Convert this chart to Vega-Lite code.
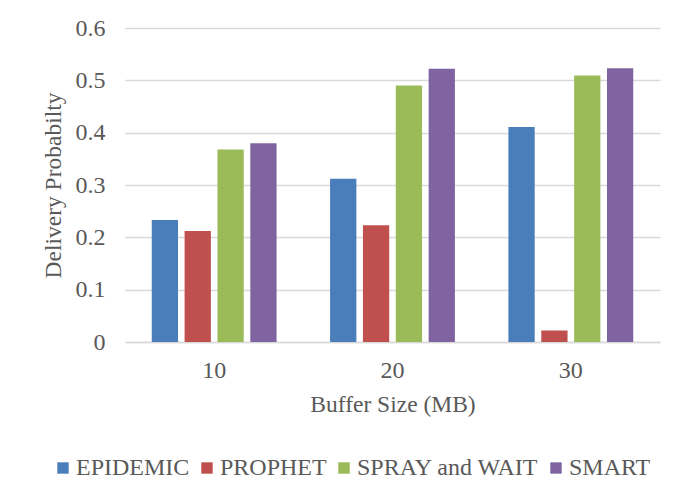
{
  "$schema": "https://vega.github.io/schema/vega-lite/v6.json",
  "width": 535,
  "height": 314,
  "autosize": {"type": "none"},
  "padding": {"left": 125, "top": 28, "right": 15, "bottom": 157},
  "background": "white",
  "data": {
    "values": [
      {"buffer": "10", "protocol": "EPIDEMIC", "p": 0.233},
      {"buffer": "10", "protocol": "PROPHET", "p": 0.212},
      {"buffer": "10", "protocol": "SPRAY and WAIT", "p": 0.368},
      {"buffer": "10", "protocol": "SMART", "p": 0.380},
      {"buffer": "20", "protocol": "EPIDEMIC", "p": 0.312},
      {"buffer": "20", "protocol": "PROPHET", "p": 0.223},
      {"buffer": "20", "protocol": "SPRAY and WAIT", "p": 0.490},
      {"buffer": "20", "protocol": "SMART", "p": 0.522},
      {"buffer": "30", "protocol": "EPIDEMIC", "p": 0.411},
      {"buffer": "30", "protocol": "PROPHET", "p": 0.022},
      {"buffer": "30", "protocol": "SPRAY and WAIT", "p": 0.509},
      {"buffer": "30", "protocol": "SMART", "p": 0.523}
    ]
  },
  "mark": {"type": "bar"},
  "encoding": {
    "x": {
      "field": "buffer", "type": "nominal", "sort": ["10", "20", "30"],
      "scale": {"paddingInner": 0.3, "paddingOuter": 0.15},
      "axis": {
        "title": "Buffer Size (MB)", "labelAngle": 0, "ticks": false,
        "domainColor": "#d9d9d9", "domainWidth": 1.5,
        "labelFont": "Liberation Serif", "labelFontSize": 24, "labelColor": "#595959",
        "labelPadding": 16,
        "titleFont": "Liberation Serif", "titleFontSize": 23.5, "titleFontWeight": "normal",
        "titleColor": "#595959", "titlePadding": 10
      }
    },
    "xOffset": {
      "field": "protocol", "type": "nominal",
      "sort": ["EPIDEMIC", "PROPHET", "SPRAY and WAIT", "SMART"],
      "scale": {"paddingInner": 0.2, "paddingOuter": 0}
    },
    "y": {
      "field": "p", "type": "quantitative",
      "scale": {"domain": [0, 0.6]},
      "axis": {
        "title": "Delivery Probabilty", "values": [0, 0.1, 0.2, 0.3, 0.4, 0.5, 0.6],
        "format": "~g", "ticks": false, "domain": false,
        "gridColor": "#d9d9d9", "gridWidth": 1.3,
        "labelFont": "Liberation Serif", "labelFontSize": 24, "labelColor": "#595959",
        "labelPadding": 20,
        "titleFont": "Liberation Serif", "titleFontSize": 23.5, "titleFontWeight": "normal",
        "titleColor": "#595959", "titlePadding": 10
      }
    },
    "color": {
      "field": "protocol", "type": "nominal",
      "sort": ["EPIDEMIC", "PROPHET", "SPRAY and WAIT", "SMART"],
      "scale": {
        "domain": ["EPIDEMIC", "PROPHET", "SPRAY and WAIT", "SMART"],
        "range": ["#4a7ebb", "#c0504d", "#9bbb59", "#8064a2"]
      },
      "legend": {
        "title": null, "orient": "none", "direction": "horizontal",
        "legendX": -74, "legendY": 428,
        "symbolType": "square", "symbolSize": 130, "symbolStrokeWidth": 0,
        "labelFont": "Liberation Serif", "labelFontSize": 24, "labelColor": "#595959",
        "labelOffset": 1, "columnPadding": 5, "labelLimit": 300
      }
    }
  },
  "config": {"view": {"stroke": null}}
}
